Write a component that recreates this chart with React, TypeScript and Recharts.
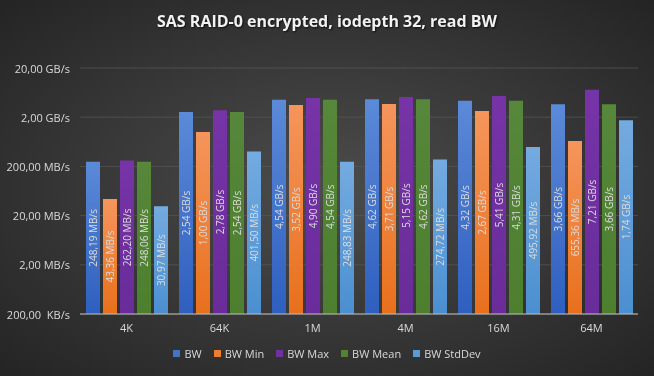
import { BarChart, Bar, XAxis, YAxis, CartesianGrid, LabelList } from 'recharts';

// values in MB/s
const categories = ['4K', '64K', '1M', '4M', '16M', '64M'];
const bw = [248.19, 2540, 4540, 4620, 4320, 3660];
const bwMin = [43.36, 1000, 3520, 3710, 2670, 655.36];
const bwMax = [262.2, 2780, 4900, 5150, 5410, 7210];
const bwMean = [248.06, 2540, 4540, 4620, 4310, 3660];
const bwStdDev = [30.97, 401.5, 248.83, 274.72, 495.92, 1740];
const yTicks = [0.2, 2, 20, 200, 2000, 20000];

const data = categories.map((name, i) => ({
  name,
  bw: bw[i],
  bwMin: bwMin[i],
  bwMax: bwMax[i],
  bwMean: bwMean[i],
  bwStdDev: bwStdDev[i],
}));

const SERIES = [
  { key: 'bw', name: 'BW', top: '#5b8ad8', bottom: '#2f5fbf', swatch: '#4472c4' },
  { key: 'bwMin', name: 'BW Min', top: '#f5955c', bottom: '#e8701c', swatch: '#ed7d31' },
  { key: 'bwMax', name: 'BW Max', top: '#7634a6', bottom: '#6a2c9a', swatch: '#7030a0' },
  { key: 'bwMean', name: 'BW Mean', top: '#56873a', bottom: '#4d7f2f', swatch: '#548235' },
  { key: 'bwStdDev', name: 'BW StdDev', top: '#74abe0', bottom: '#4b8fd0', swatch: '#5b9bd5' },
];

const FONT = '"Open Sans", "Noto Sans", sans-serif';

function fmt(v: number): string {
  if (v >= 1000) return `${(v / 1000).toFixed(2).replace('.', ',')} GB/s`;
  if (v >= 1) return `${v.toFixed(2).replace('.', ',')} MB/s`;
  return `${(v * 1000).toFixed(2).replace('.', ',')}  KB/s`;
}

function YTick(props: any) {
  const { x, y, payload } = props;
  return (
    <text
      x={x}
      y={y}
      textAnchor="end"
      dominantBaseline="central"
      fill="#d9d9d9"
      fontSize={11}
      fontFamily={FONT}
      style={{ whiteSpace: 'pre' }}
    >
      {fmt(payload.value)}
    </text>
  );
}

function BarLabel(props: any) {
  const { x, y, width, height, value } = props;
  const cx = x + width / 2;
  const cy = y + height / 2;
  return (
    <text
      x={cx}
      y={cy}
      transform={`rotate(-90, ${cx}, ${cy})`}
      textAnchor="middle"
      dominantBaseline="central"
      fill="#dcdcdc"
      fontSize={10}
      fontFamily={FONT}
    >
      {fmt(value)}
    </text>
  );
}

export default function App() {
  return (
    <div
      style={{
        position: 'fixed',
        left: 0,
        top: 0,
        width: 654,
        height: 376,
        background: 'radial-gradient(ellipse at 50% 50%, #4c4c4c 0%, #3a3a3a 45%, #242424 100%)',
        fontFamily: FONT,
      }}
    >
      <div
        style={{
          position: 'absolute',
          top: 10,
          left: 0,
          width: 654,
          textAlign: 'center',
          color: '#f2f2f2',
          fontWeight: 700,
          fontSize: 16,
          textShadow: '1px 1px 2px rgba(0,0,0,0.7)',
        }}
      >
        SAS RAID-0 encrypted, iodepth 32, read BW
      </div>
      <BarChart
        width={654}
        height={376}
        data={data}
        margin={{ top: 68, right: 16, left: 0, bottom: 32 }}
        barCategoryGap={6}
        barGap={3}
      >
        <defs>
          {SERIES.map((s) => (
            <linearGradient key={s.key} id={`g-${s.key}`} x1="0" y1="0" x2="0" y2="1">
              <stop offset="0%" stopColor={s.top} />
              <stop offset="100%" stopColor={s.bottom} />
            </linearGradient>
          ))}
        </defs>
        <CartesianGrid vertical={false} stroke="#595959" strokeOpacity={0.7} />
        <XAxis
          dataKey="name"
          height={30}
          tickLine={false}
          tickSize={6}
          tickMargin={4}
          axisLine={{ stroke: '#bfbfbf' }}
          tick={{ fill: '#d9d9d9', fontSize: 11, fontFamily: FONT }}
        />
        <YAxis
          scale="log"
          domain={[0.2, 20000]}
          ticks={yTicks}
          allowDataOverflow
          width={80}
          tickLine={false}
          axisLine={false}
          tickSize={6}
          tickMargin={4}
          tick={<YTick />}
        />
        {SERIES.map((s) => (
          <Bar key={s.key} dataKey={s.key} name={s.name} fill={`url(#g-${s.key})`} isAnimationActive={false}>
            <LabelList dataKey={s.key} content={<BarLabel />} />
          </Bar>
        ))}
      </BarChart>
      <div
        style={{
          position: 'absolute',
          top: 346,
          left: 0,
          width: 654,
          display: 'flex',
          justifyContent: 'center',
          gap: 12,
          fontSize: 11,
          color: '#d9d9d9',
        }}
      >
        {SERIES.map((s) => (
          <div key={s.key} style={{ display: 'flex', alignItems: 'center', gap: 4 }}>
            <span style={{ width: 7, height: 7, background: s.swatch, display: 'inline-block' }} />
            <span>{s.name}</span>
          </div>
        ))}
      </div>
    </div>
  );
}
